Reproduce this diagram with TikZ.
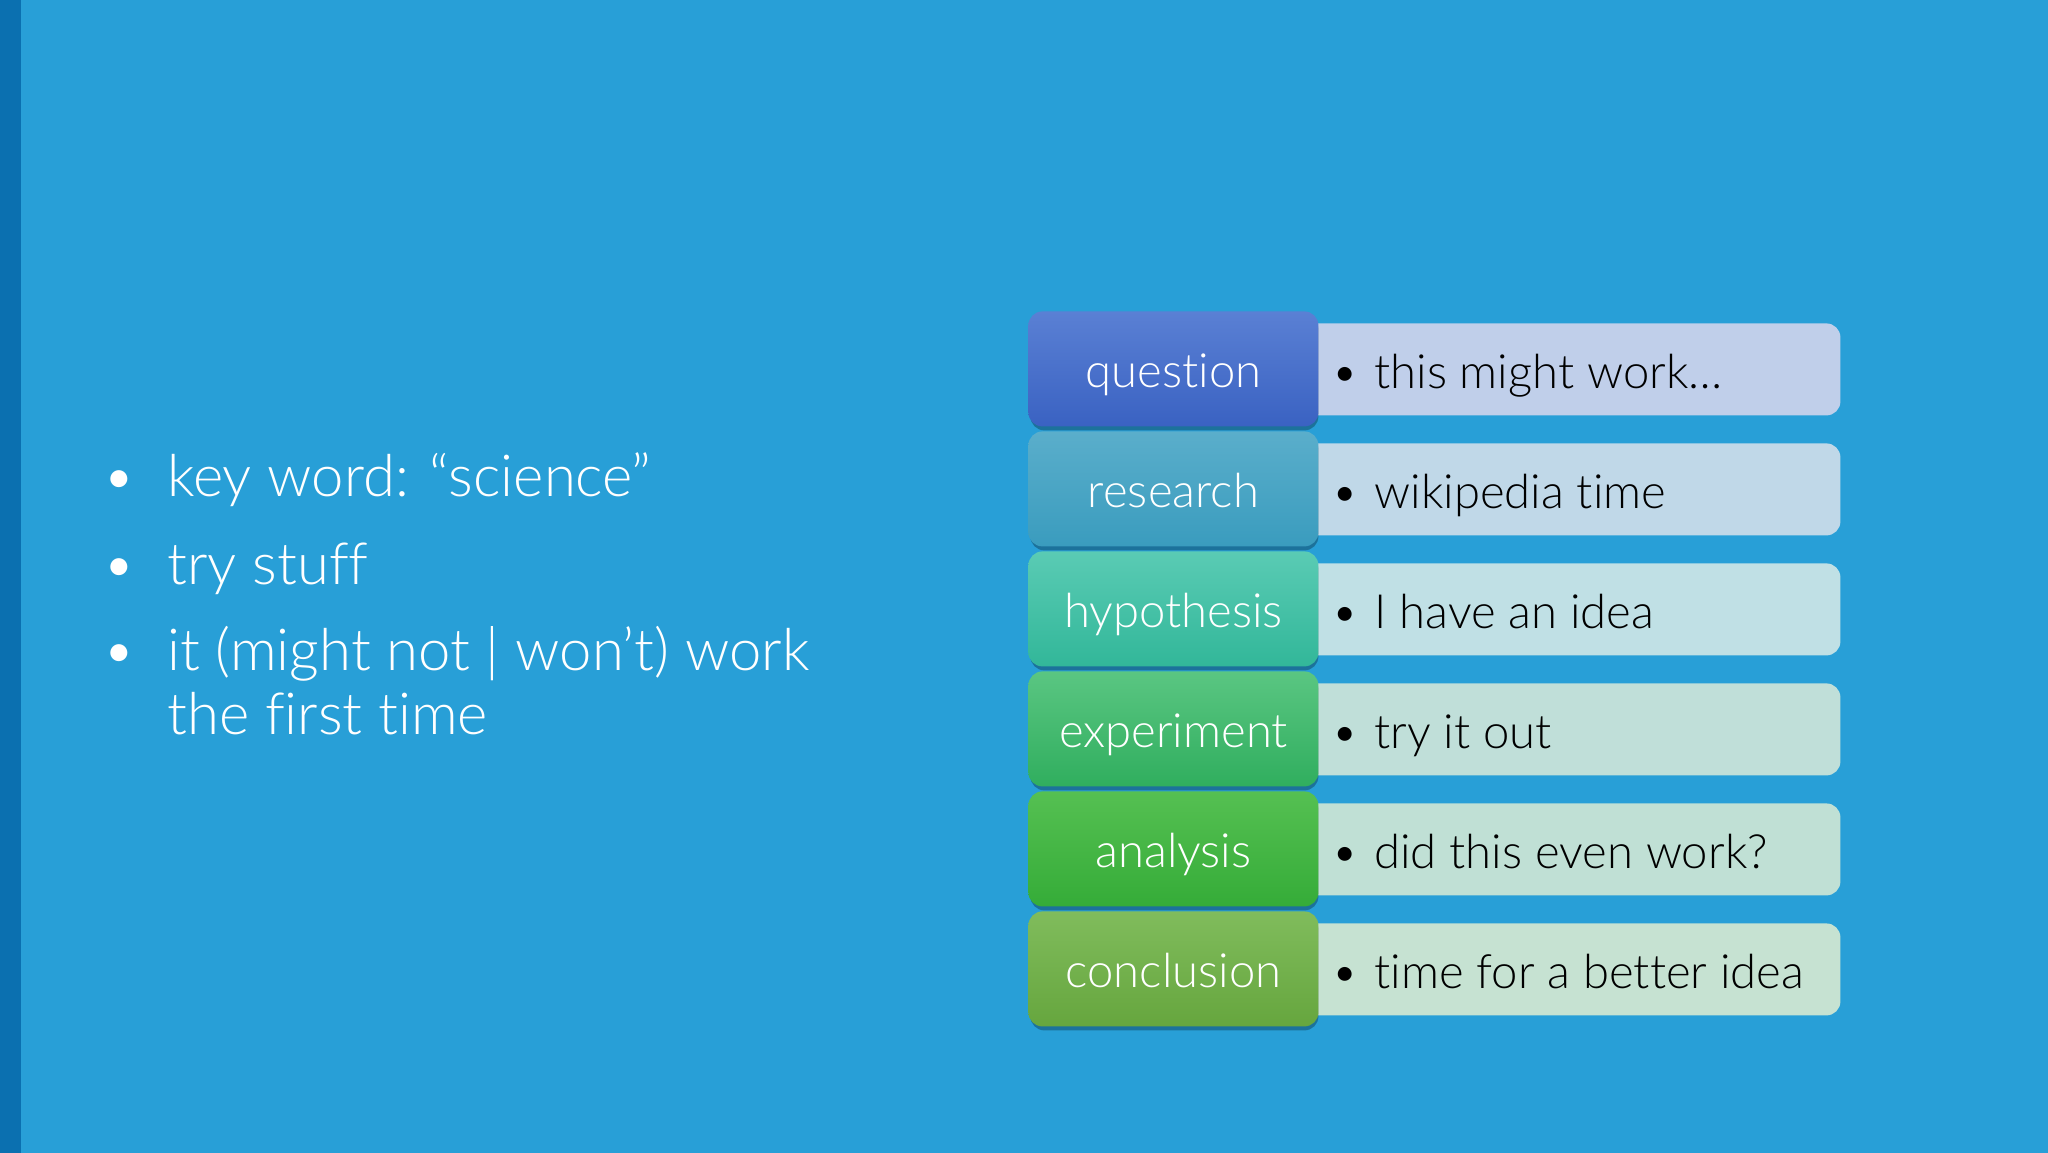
\documentclass[tikz,border=0pt]{standalone}
\usepackage{fontspec}
\setmainfont{Lato}[UprightFont=* Light, Ligatures=NoCommon]
\definecolor{bgblue}{HTML}{289FD7}
\definecolor{stripblue}{HTML}{0B70B0}
\definecolor{qTop}{HTML}{5A80D4}\definecolor{qBot}{HTML}{3A62C2}
\definecolor{rTop}{HTML}{5AAECB}\definecolor{rBot}{HTML}{3A9CBE}
\definecolor{hTop}{HTML}{5ACBB4}\definecolor{hBot}{HTML}{32B799}
\definecolor{eTop}{HTML}{5AC682}\definecolor{eBot}{HTML}{30AE5E}
\definecolor{aTop}{HTML}{55C052}\definecolor{aBot}{HTML}{35AC38}
\definecolor{cTop}{HTML}{80BC5C}\definecolor{cBot}{HTML}{66A63E}
\definecolor{qLight}{HTML}{C0CFEA}
\definecolor{rLight}{HTML}{C0D8E8}
\definecolor{hLight}{HTML}{C0E0E5}
\definecolor{eLight}{HTML}{C0DFD9}
\definecolor{aLight}{HTML}{C0E0D5}
\definecolor{cLight}{HTML}{C6E2D2}
\tikzset{
  stepbox/.style={rounded corners=7pt, minimum width=145pt, minimum height=57.5pt, inner sep=0pt, anchor=north west},
  shadowbox/.style={rounded corners=7pt, minimum width=144pt, minimum height=57.5pt, inner sep=0pt, anchor=north west, fill=black, opacity=0.28},
  infobox/.style={rounded corners=7pt, minimum width=270pt, minimum height=46pt, inner sep=0pt, anchor=north west},
  steplabel/.style={text=white, font=\fontsize{23.6}{28}\selectfont, anchor=base, inner sep=0pt},
  infotext/.style={text=black, font=\fontsize{23.6}{28}\selectfont, anchor=base west, inner sep=0pt},
  lefttext/.style={text=white, font=\fontsize{29}{32}\selectfont, anchor=base west, inner sep=0pt, align=left}
}
\begin{document}
\begin{tikzpicture}[x=0.5pt,y=-0.5pt]
\useasboundingbox (0,0) rectangle (2048,1152);
\fill[bgblue] (-10,-10) rectangle (2058,1162);
\fill[stripblue] (-10,-10) rectangle (21,1162);
% left bullets
\node[lefttext] (b1d) at (102,496) {•};
\node[lefttext] (b1) at (167,496) {key word: “science”};
\node[lefttext] (b2d) at (102,584) {•};
\node[lefttext] (b2) at (167,584) {try stuff};
\node[lefttext] (b3d) at (102,670) {•};
\node[lefttext] (b3) at (167,670) {it (might not | won’t) work};
\node[lefttext] (b4) at (167,734) {the first time};
% rows
\foreach \i/\nm/\lab/\txt/\ct/\cb/\cl in {
  0/q/question/this might work…/qTop/qBot/qLight,
  1/r/research/wikipedia time/rTop/rBot/rLight,
  2/h/hypothesis/I have an idea/hTop/hBot/hLight,
  3/e/experiment/try it out/eTop/eBot/eLight,
  4/a/analysis/did this even work?/aTop/aBot/aLight,
  5/c/conclusion/time for a better idea/cTop/cBot/cLight}{
  \node[infobox, fill=\cl] (\nm info) at (1300,{323+120*\i}) {};
  \node[shadowbox] (\nm shadow) at (1030,{315+120*\i}) {};
  \node[stepbox, top color=\ct, bottom color=\cb] (\nm box) at (1028,{311+120*\i}) {};
  \node[steplabel] (\nm label) at ([yshift=-19*0.5pt]\nm box.center) {\lab};
  \node[infotext] (\nm dot) at (1331,{388+120*\i}) {•};
  \node[infotext] (\nm text) at (1374,{388+120*\i}) {\txt};
}
\end{tikzpicture}
\end{document}
